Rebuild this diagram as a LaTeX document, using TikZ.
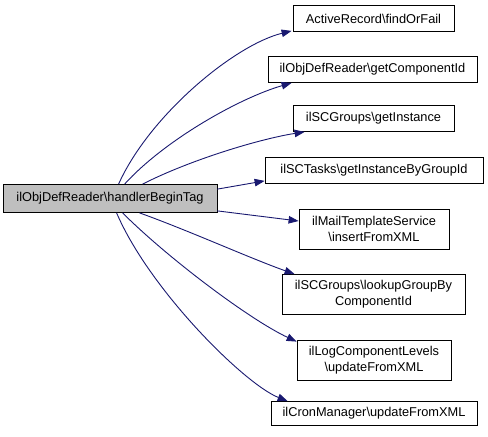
\documentclass[tikz,border=0pt]{standalone}
\usepackage{fontspec}
\setmainfont{Liberation Sans}
\usetikzlibrary{arrows.meta}
\definecolor{edgecol}{HTML}{191970}
\definecolor{srcfill}{HTML}{BFBFBF}
\tikzset{
  box/.style={draw=black, line width=0.8pt, fill=white, inner sep=0pt, align=center,
    font=\fontsize{12.8}{16}\selectfont},
  srcbox/.style={box, fill=srcfill},
  edge/.style={draw=edgecol, line width=0.9pt, -{Triangle[length=10pt,width=7.5pt]}},
}
\begin{document}
\begin{tikzpicture}[x=1pt,y=-1pt]
\useasboundingbox (0,0) rectangle (488,437);
\node[srcbox, minimum width=214pt, minimum height=28pt] (src) at (110,198.5) {ilObjDefReader\textbackslash handlerBeginTag};
\node[box, minimum width=161pt, minimum height=26pt] (n1) at (373.5,18.5) {ActiveRecord\textbackslash findOrFail};
\node[box, minimum width=209pt, minimum height=26pt] (n2) at (372.5,69.5) {ilObjDefReader\textbackslash getComponentId};
\node[box, minimum width=161pt, minimum height=26pt] (n3) at (373.5,118.5) {ilSCGroups\textbackslash getInstance};
\node[box, minimum width=218pt, minimum height=26pt] (n4) at (374,170.5) {ilSCTasks\textbackslash getInstanceByGroupId};
\node[box, minimum width=150pt, minimum height=40pt] (n5) at (374,229) {ilMailTemplateService\\\textbackslash insertFromXML};
\node[box, minimum width=183pt, minimum height=40pt] (n6) at (373.5,294.5) {ilSCGroups\textbackslash lookupGroupBy\\ComponentId};
\node[box, minimum width=154pt, minimum height=40pt] (n7) at (374,360) {ilLogComponentLevels\\\textbackslash updateFromXML};
\node[box, minimum width=206pt, minimum height=24pt] (n8) at (374,413.5) {ilCronManager\textbackslash updateFromXML};

\draw[edge] ([xshift=116pt]src.north west) .. controls +(31,-69) and +(-57,14) .. ([xshift=-1pt,yshift=1pt]n1.south west);
\draw[edge] ([xshift=122pt]src.north west) .. controls +(40,-44) and +(-52,15) .. ([xshift=24pt]n2.south west);
\draw[edge] ([xshift=140pt]src.north west) .. controls +(47,-24) and +(-45,7) .. ([xshift=12pt]n3.south west);
\draw[edge] ([yshift=-5pt]src.north east) -- ([yshift=3pt]n4.south west);
\draw[edge] ([yshift=2pt]src.south east) -- ([yshift=8pt]n5.west);
\draw[edge] ([xshift=137pt]src.south west) .. controls +(50,18) and +(-45,-16) .. ([xshift=13pt]n6.north west);
\draw[edge] ([xshift=120pt]src.south west) .. controls +(45,45) and +(-47,-22) .. ([yshift=-2pt]n7.north west);
\draw[edge] ([xshift=114pt]src.south west) .. controls +(33,77) and +(-43,-17) .. ([xshift=17pt]n8.north west);
\end{tikzpicture}
\end{document}
